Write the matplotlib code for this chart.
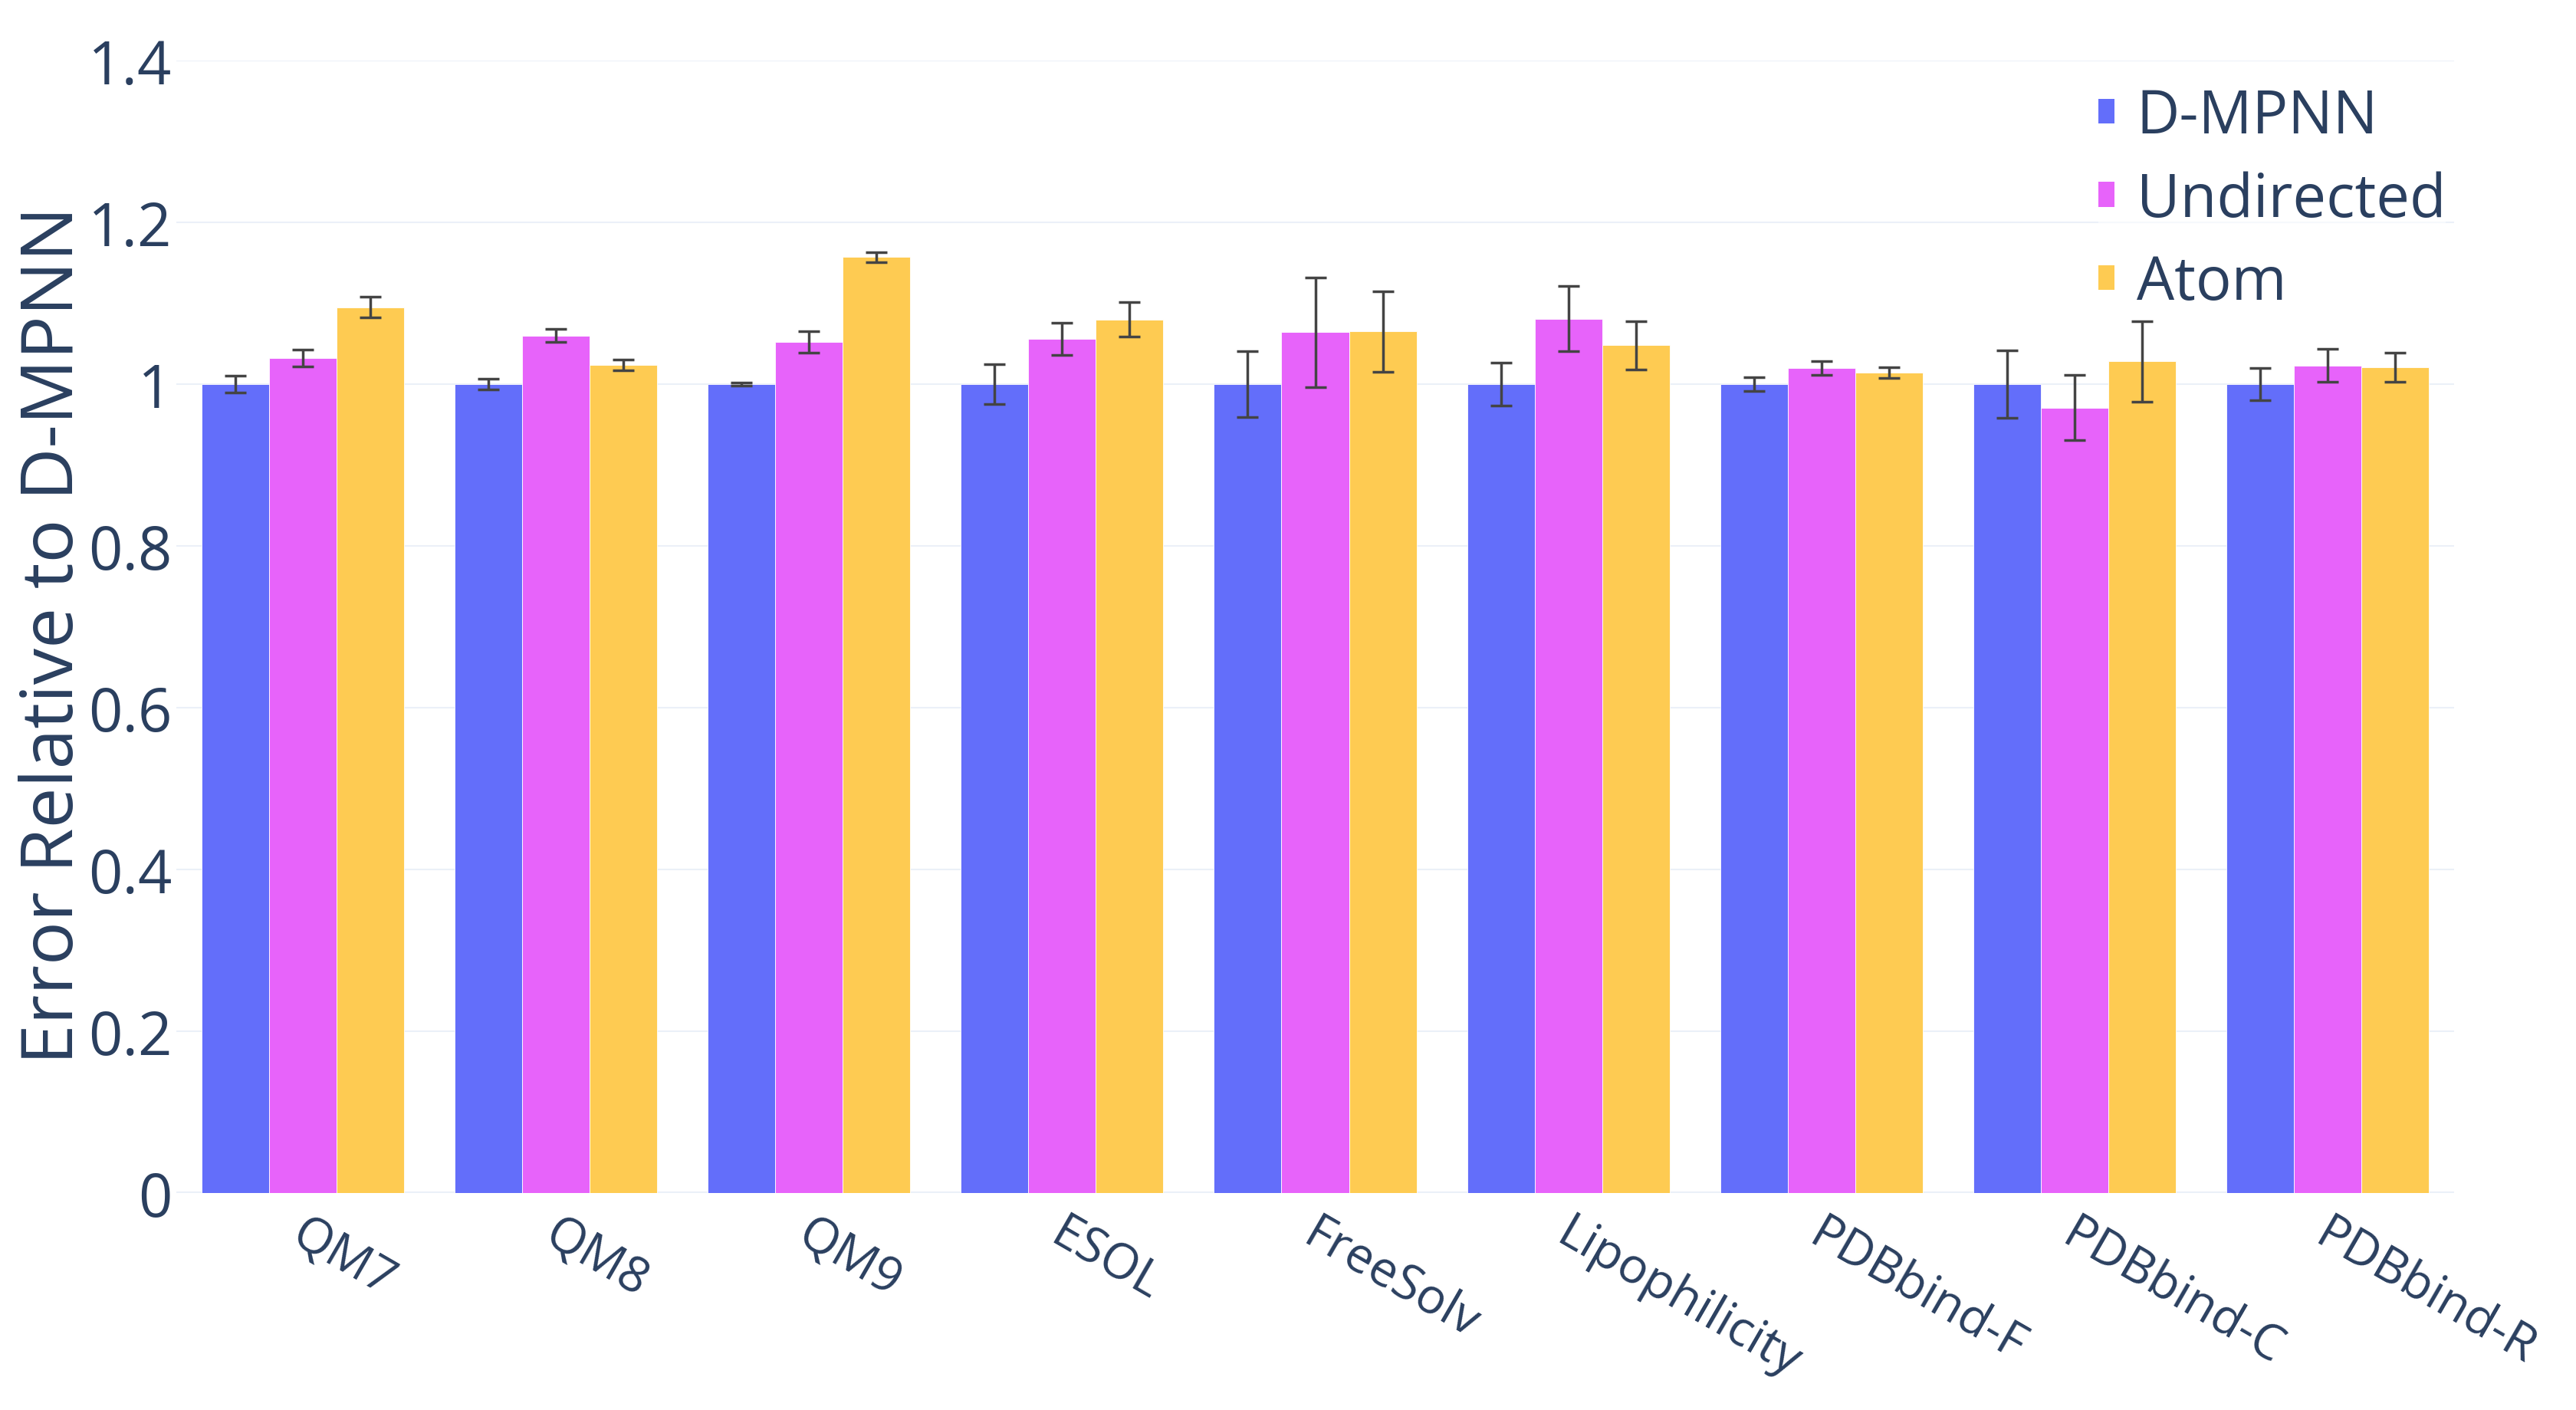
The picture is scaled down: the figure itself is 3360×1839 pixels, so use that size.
import numpy as np
import matplotlib.pyplot as plt
from matplotlib.patches import Patch
from matplotlib.transforms import ScaledTranslation

# Datos
categorias = ['QM7', 'QM8', 'QM9', 'ESOL', 'FreeSolv', 'Lipophilicity',
              'PDBbind-F', 'PDBbind-C', 'PDBbind-R']
dmpnn = [1, 1, 1, 1, 1, 1, 1, 1, 1]
dmpnn_err = [0.010, 0.0066, 0.002, 0.0247, 0.0405, 0.0263, 0.0083, 0.042, 0.020]
undirected = [1.032, 1.060, 1.052, 1.056, 1.064, 1.081, 1.020, 0.971, 1.023]
undirected_err = [0.0105, 0.008, 0.013, 0.020, 0.0675, 0.040, 0.0087, 0.040, 0.0204]
atom = [1.095, 1.024, 1.157, 1.080, 1.065, 1.048, 1.014, 1.028, 1.021]
atom_err = [0.013, 0.0067, 0.0063, 0.0215, 0.0495, 0.030, 0.0067, 0.050, 0.0183]

y_ticks = [0, 0.2, 0.4, 0.6, 0.8, 1, 1.2, 1.4]
y_tick_labels = ['0', '0.2', '0.4', '0.6', '0.8', '1', '1.2', '1.4']

series = [
    ('D-MPNN', dmpnn, dmpnn_err, '#636EFA'),
    ('Undirected', undirected, undirected_err, '#E763FA'),
    ('Atom', atom, atom_err, '#FECB52'),
]

plt.rcParams['font.family'] = ['Open Sans', 'DejaVu Sans']
texto = '#2a3f5f'
grid = '#EBF0F8'

fig = plt.figure(figsize=(33.6, 18.4), dpi=100)
ax = fig.add_axes([230 / 3360, 1 - 1557 / 1840, 2971 / 3360, 1477 / 1840])

x = np.arange(len(categorias))
ancho = 0.8 / 3
for i, (nombre, vals, errs, color) in enumerate(series):
    pos = x + (i - 1) * ancho
    ax.bar(pos, vals, width=ancho, color=color, edgecolor='white',
           linewidth=0.6, zorder=2, label=nombre)
    ax.errorbar(pos, vals, yerr=errs, fmt='none', ecolor='#444444',
                elinewidth=2.5, capsize=10, capthick=2.5, zorder=3)

ax.set_xlim(-0.5, len(categorias) - 0.5)
ax.set_ylim(0, 1.4)
ax.set_yticks(y_ticks)
ax.set_yticklabels(y_tick_labels)
for yv in y_ticks[1:]:
    ax.axhline(yv, color=grid, linewidth=1.5, zorder=0)
ax.axhline(0, color=grid, linewidth=3, zorder=1)

ax.set_xticks(x)
ax.set_xticklabels(categorias, rotation=-30, ha='left', va='top',
                   rotation_mode='anchor')
ax.tick_params(axis='both', length=0, labelcolor=texto)
ax.tick_params(axis='y', pad=4, labelsize=56)
ax.tick_params(axis='x', pad=15, labelsize=46)
desplazar = ScaledTranslation(6 / 100, 0, fig.dpi_scale_trans)
for lbl in ax.get_xticklabels():
    lbl.set_transform(lbl.get_transform() + desplazar)
for s in ax.spines.values():
    s.set_visible(False)

fig.text(71 / 3360, 1 - 829 / 1840, 'Error Relative to D-MPNN', rotation=90,
         ha='center', va='center', fontsize=68, color=texto)

handles = [Patch(facecolor=c, edgecolor='none', label=n) for n, _, _, c in series]
leg = fig.legend(handles=handles, loc='upper left',
                 bbox_to_anchor=(2737 / 3360, 1 - 114 / 1840),
                 fontsize=56, frameon=True, framealpha=0.6, edgecolor='none',
                 facecolor='white', borderpad=0, borderaxespad=0,
                 handlelength=0.27, handleheight=0.27, handletextpad=0.37,
                 labelspacing=0.38, labelcolor=texto)
leg.get_frame().set_boxstyle('square', pad=0)

fig.savefig('out.png', dpi=100, facecolor='white')
